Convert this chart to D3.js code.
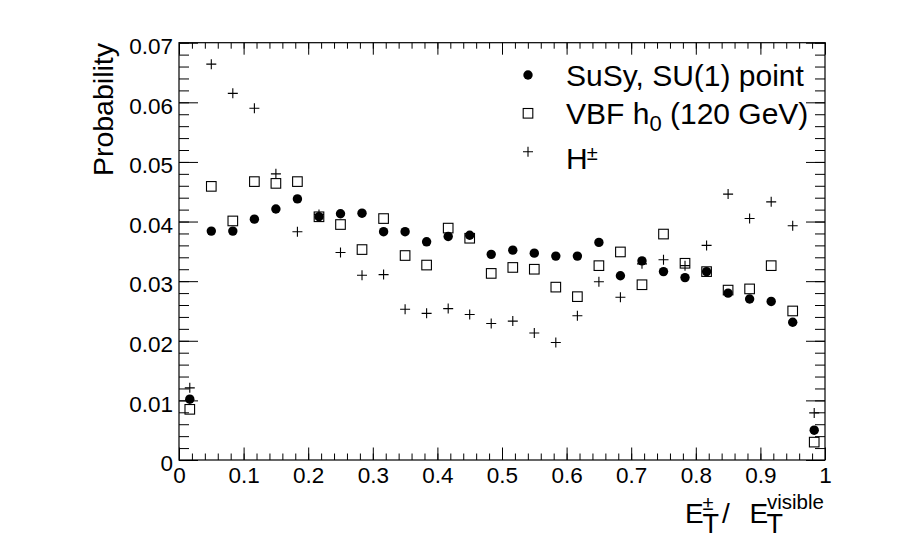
<!DOCTYPE html>
<html>
<head>
<meta charset="UTF-8">
<title>Probability vs E_T ratio</title>
<script src="https://cdn.jsdelivr.net/npm/d3@7"></script>
<style>
  body { margin: 0; background: #fff; }
  svg { display: block; font-family: "Liberation Sans", Arial, sans-serif; }
</style>
</head>
<body>
<div id="app"></div>
<script>
// bin centres (30 bins between 0 and 1)
var binCenters = [0.0167, 0.05, 0.0833, 0.1167, 0.15, 0.1833, 0.2167, 0.25, 0.2833, 0.3167,
                  0.35, 0.3833, 0.4167, 0.45, 0.4833, 0.5167, 0.55, 0.5833, 0.6167, 0.65,
                  0.6833, 0.7167, 0.75, 0.7833, 0.8167, 0.85, 0.8833, 0.9167, 0.95, 0.9833];
// SuSy, SU(1) point
var susy = [0.0102, 0.0384, 0.0384, 0.0404, 0.0421, 0.0438, 0.0408, 0.0413, 0.0414, 0.0383,
            0.0383, 0.0366, 0.0375, 0.0377, 0.0345, 0.0352, 0.0347, 0.0342, 0.0342, 0.0365,
            0.0309, 0.0334, 0.0316, 0.0306, 0.0316, 0.0280, 0.0270, 0.0266, 0.0231, 0.0050];
// VBF h0 (120 GeV)
var vbf = [0.0085, 0.0459, 0.0401, 0.0467, 0.0464, 0.0467, 0.0408, 0.0395, 0.0353, 0.0405,
           0.0343, 0.0327, 0.0389, 0.0372, 0.0313, 0.0323, 0.0320, 0.0290, 0.0274, 0.0326,
           0.0349, 0.0294, 0.0379, 0.0330, 0.0316, 0.0285, 0.0287, 0.0326, 0.0250, 0.0030];
// H+-
var hpm = [0.0121, 0.0664, 0.0615, 0.0590, 0.0480, 0.0383, 0.0412, 0.0348, 0.0310, 0.0311,
           0.0253, 0.0246, 0.0254, 0.0244, 0.0229, 0.0233, 0.0213, 0.0197, 0.0242, 0.0299,
           0.0273, 0.0329, 0.0336, 0.0326, 0.0360, 0.0446, 0.0405, 0.0433, 0.0393, 0.0079];

var xTicks = [0, 0.1, 0.2, 0.3, 0.4, 0.5, 0.6, 0.7, 0.8, 0.9, 1];
var yTicks = [0, 0.01, 0.02, 0.03, 0.04, 0.05, 0.06, 0.07];

var W = 897, H = 539;
var frameL = 179, frameR = 825, frameT = 42.7, frameB = 460;

var x = d3.scaleLinear().domain([0, 1]).range([frameL, frameR]);
var y = d3.scaleLinear().domain([0, 0.07]).range([frameB, frameT]);

var svg = d3.select('#app').append('svg')
    .attr('width', W)
    .attr('height', H);

svg.append('rect').attr('width', W).attr('height', H).attr('fill', '#fff');

var fmt = d3.format('~g');
var xMinor = d3.range(0, 1.0001, 0.02);
var yMinor = d3.range(0, 0.07001, 0.002);

// left axis: labels + ticks
var gl = svg.append('g').attr('transform', 'translate(' + frameL + ',0)');
gl.call(d3.axisLeft(y).tickValues(yTicks).tickFormat(fmt).tickSizeInner(-19).tickSizeOuter(0).tickPadding(6));
gl.append('g').call(d3.axisLeft(y).tickValues(yMinor).tickFormat('').tickSizeInner(-10).tickSizeOuter(0));
gl.selectAll('text').attr('dy', '0.48em');

// right axis: ticks only
var gr = svg.append('g').attr('transform', 'translate(' + frameR + ',0)');
gr.call(d3.axisRight(y).tickValues(yTicks).tickFormat('').tickSizeInner(-19).tickSizeOuter(0));
gr.append('g').call(d3.axisRight(y).tickValues(yMinor).tickFormat('').tickSizeInner(-10).tickSizeOuter(0));

// bottom axis
var gb = svg.append('g').attr('transform', 'translate(0,' + frameB + ')');
gb.call(d3.axisBottom(x).tickValues(xTicks).tickFormat(fmt).tickSizeInner(-12.5).tickSizeOuter(0).tickPadding(7));
gb.append('g').call(d3.axisBottom(x).tickValues(xMinor).tickFormat('').tickSizeInner(-6.5).tickSizeOuter(0));

// top axis
var gt = svg.append('g').attr('transform', 'translate(0,' + frameT + ')');
gt.call(d3.axisTop(x).tickValues(xTicks).tickFormat('').tickSizeInner(-12).tickSizeOuter(0));
gt.append('g').call(d3.axisTop(x).tickValues(xMinor).tickFormat('').tickSizeInner(-6).tickSizeOuter(0));

svg.selectAll('.domain').remove();
svg.selectAll('.tick line').attr('stroke', '#000').attr('stroke-width', 1);
svg.selectAll('.tick text').attr('fill', '#000').attr('font-size', 22.5)
    .style('font-family', '"Liberation Sans", Arial, sans-serif');

// frame
svg.append('rect')
    .attr('x', frameL).attr('y', frameT)
    .attr('width', frameR - frameL).attr('height', frameB - frameT)
    .attr('fill', 'none').attr('stroke', '#000').attr('stroke-width', 1.2);

// markers
var plot = svg.append('g');
var sq = 9.6, cr = 5;

plot.selectAll('rect.vbf').data(vbf).enter().append('rect')
    .attr('class', 'vbf')
    .attr('x', function(d, i) { return x(binCenters[i]) - sq / 2; })
    .attr('y', function(d) { return y(d) - sq / 2; })
    .attr('width', sq).attr('height', sq)
    .attr('fill', 'none').attr('stroke', '#000').attr('stroke-width', 1.1);

plot.selectAll('path.hpm').data(hpm).enter().append('path')
    .attr('class', 'hpm')
    .attr('d', function(d, i) {
        var cx = x(binCenters[i]), cy = y(d);
        return 'M' + (cx - cr) + ',' + cy + 'H' + (cx + cr) + 'M' + cx + ',' + (cy - cr) + 'V' + (cy + cr);
    })
    .attr('stroke', '#000').attr('stroke-width', 1.1).attr('fill', 'none');

plot.selectAll('circle.susy').data(susy).enter().append('circle')
    .attr('class', 'susy')
    .attr('cx', function(d, i) { return x(binCenters[i]); })
    .attr('cy', function(d) { return y(d); })
    .attr('r', 4.7)
    .attr('fill', '#000');

// legend
var lg = svg.append('g');
lg.append('circle').attr('cx', 528).attr('cy', 75).attr('r', 4.7).attr('fill', '#000');
lg.append('rect').attr('x', 528 - sq / 2).attr('y', 113.3 - sq / 2).attr('width', sq).attr('height', sq)
    .attr('fill', 'none').attr('stroke', '#000').attr('stroke-width', 1.1);
lg.append('path').attr('d', 'M' + (528 - cr) + ',151.7H' + (528 + cr) + 'M528,' + (151.7 - cr) + 'V' + (151.7 + cr))
    .attr('stroke', '#000').attr('stroke-width', 1.1);

lg.append('text').attr('x', 566).attr('y', 86).attr('font-size', 30).text('SuSy, SU(1) point');
var t2 = lg.append('text').attr('x', 566).attr('y', 124).attr('font-size', 30);
t2.append('tspan').text('VBF h');
t2.append('tspan').attr('font-size', 22).attr('dy', 7).text('0');
t2.append('tspan').attr('dy', -7).text(' (120 GeV)');
var t3 = lg.append('text').attr('x', 566).attr('y', 169).attr('font-size', 30);
t3.append('tspan').text('H');
t3.append('tspan').attr('font-size', 20).attr('dy', -9).attr('dx', -1).text('±');

// y title
svg.append('text')
    .attr('transform', 'translate(113,43) rotate(-90)')
    .attr('text-anchor', 'end')
    .attr('font-size', 28.5)
    .text('Probability');

// x title
var xt = svg.append('text').attr('x', 685).attr('y', 523).attr('font-size', 28);
xt.append('tspan').text('E');
xt.append('tspan').attr('x', 702.5).attr('y', 510).attr('font-size', 20).text('±');
xt.append('tspan').attr('x', 702.5).attr('y', 533).attr('font-size', 27).text('T');
xt.append('tspan').attr('x', 722).attr('y', 523).text('/');
xt.append('tspan').attr('x', 749.5).attr('y', 523).text('E');
xt.append('tspan').attr('x', 766.5).attr('y', 533).attr('font-size', 27).text('T');
xt.append('tspan').attr('x', 767).attr('y', 509).attr('font-size', 20.5).text('visible');
</script>
</body>
</html>
